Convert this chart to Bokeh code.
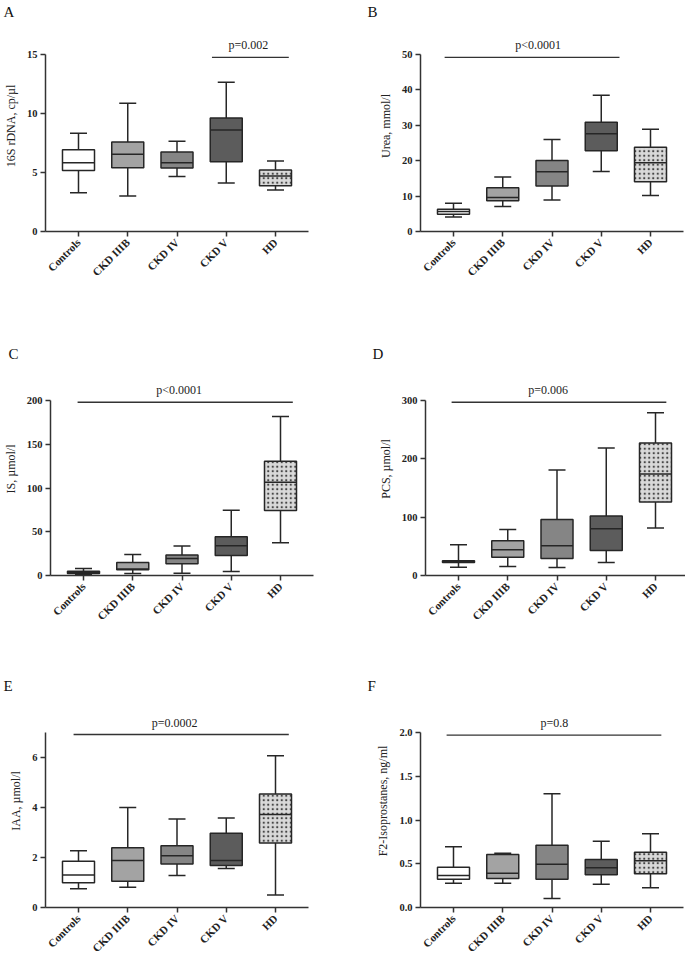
import math
from bokeh.plotting import figure
from bokeh.layouts import column, row
from bokeh.models import Range1d, FixedTicker, NumeralTickFormatter, ColumnDataSource
from bokeh.core.properties import value
from bokeh.embed import file_html
from bokeh.resources import INLINE

# ---------------- data ----------------
categories = ["Controls", "CKD IIIB", "CKD IV", "CKD V", "HD"]
box_colors = ["#ffffff", "#a3a3a3", "#858585", "#5c5c5c", "#d9d9d9"]
box_hatches = ["blank", "blank", "blank", "blank", "dot"]

# A: 16S rDNA
a_lower = [3.28, 3.0, 4.67, 4.1, 3.51]
a_q1 = [5.18, 5.41, 5.38, 5.92, 3.88]
a_med = [5.83, 6.54, 5.83, 8.6, 4.7]
a_q3 = [6.93, 7.59, 6.74, 9.62, 5.21]
a_upper = [8.32, 10.87, 7.64, 12.65, 5.97]
a_ticks = [0, 5, 10, 15]

# B: Urea
b_lower = [4.13, 7.04, 8.91, 16.98, 10.2]
b_q1 = [4.88, 8.72, 12.85, 22.8, 14.07]
b_med = [5.63, 9.57, 16.89, 27.58, 19.4]
b_q3 = [6.29, 12.38, 20.07, 30.86, 23.83]
b_upper = [7.97, 15.38, 25.98, 38.46, 28.9]
b_ticks = [0, 10, 20, 30, 40, 50]

# C: IS
c_lower = [1.0, 2.3, 2.7, 4.6, 37.5]
c_q1 = [2.2, 6.5, 13.4, 22.9, 74.2]
c_med = [3.5, 7.5, 19.5, 34.0, 106.7]
c_q3 = [5.0, 14.9, 23.3, 44.4, 130.5]
c_upper = [8.0, 24.1, 33.7, 74.6, 181.6]
c_ticks = [0, 50, 100, 150, 200]

# D: PCS
d_lower = [14.3, 15.5, 13.7, 22.3, 81.3]
d_q1 = [22.5, 31.5, 29.2, 43.0, 126.0]
d_med = [24.0, 44.0, 51.0, 80.2, 174.0]
d_q3 = [25.5, 59.5, 96.0, 102.0, 227.3]
d_upper = [52.7, 79.0, 181.0, 218.7, 278.8]
d_ticks = [0, 100, 200, 300]

# E: IAA
e_lower = [0.75, 0.81, 1.28, 1.56, 0.5]
e_q1 = [0.99, 1.05, 1.74, 1.68, 2.58]
e_med = [1.30, 1.88, 2.07, 1.88, 3.72]
e_q3 = [1.85, 2.39, 2.47, 2.97, 4.54]
e_upper = [2.27, 4.0, 3.54, 3.58, 6.07]
e_ticks = [0, 2, 4, 6]

# F: F2-Isoprostanes
f_lower = [0.278, 0.278, 0.103, 0.267, 0.225]
f_q1 = [0.324, 0.331, 0.324, 0.373, 0.385]
f_med = [0.366, 0.392, 0.495, 0.453, 0.533]
f_q3 = [0.461, 0.606, 0.712, 0.549, 0.632]
f_upper = [0.693, 0.621, 1.30, 0.758, 0.842]
f_ticks = [0, 0.5, 1.0, 1.5, 2.0]

panel_letters = ["A", "B", "C", "D", "E", "F"]
y_labels = ["16S rDNA, cp/\u00b5l", "Urea, mmol/l", "IS, \u00b5mol/l",
            "PCS, \u00b5mol/l", "IAA, \u00b5mol/l", "F2-Isoprostanes, ng/ml"]
y_max = [15, 50, 200, 300, 7, 2.0]
p_texts = ["p=0.002", "p<0.0001", "p<0.0001", "p=0.006", "p=0.0002", "p=0.8"]
p_line_x0 = [2.71, -0.18, -0.12, -0.14, -0.10, -0.14]
p_line_x1 = [4.27, 3.37, 4.25, 4.22, 4.27, 4.22]
p_line_y = [14.75, 49.2, 198, 297, 6.92, 1.97]
p_text_x = [3.45, 1.72, 1.94, 1.82, 1.95, 2.05]

# ---------------- styling ----------------
SERIF = "Liberation Serif"
EDGE = "#262626"
FRAME_W = 263
BOX_W = 0.65


def make_panel(i, lower, q1, med, q3, upper, ticks, left, axis_h, ext, mb_top, mb_bottom, fmt=None):
    ymax = y_max[i]
    p = figure(frame_width=FRAME_W, frame_height=axis_h + ext,
               x_range=Range1d(-0.67, 4.67),
               y_range=Range1d(0, ymax * (axis_h + ext) / axis_h),
               output_backend="svg", toolbar_location=None,
               min_border_left=45 if left else 62,
               min_border_right=50 if left else 1,
               min_border_top=mb_top, min_border_bottom=mb_bottom)
    xs = list(range(len(categories)))
    src = ColumnDataSource(dict(
        x=xs, lower=lower, q1=q1, med=med, q3=q3, upper=upper,
        color=box_colors, hatch=box_hatches,
        x0=[x - BOX_W / 2 for x in xs], x1=[x + BOX_W / 2 for x in xs]))

    p.segment(x0="x", y0="lower", x1="x", y1="upper", line_color=EDGE,
              line_width=1.5, source=src)
    p.vbar(x="x", width=BOX_W, bottom="q1", top="q3", fill_color="color",
           line_color=EDGE, line_width=1.5, hatch_pattern="hatch",
           hatch_color="#444444", hatch_scale=4.5, hatch_weight=1.1, source=src)
    p.segment(x0="x0", y0="med", x1="x1", y1="med", line_color=EDGE,
              line_width=1.5, source=src)
    p.scatter(x="x", y="upper", marker="dash", size=17, line_color=EDGE,
              line_width=1.5, source=src)
    p.scatter(x="x", y="lower", marker="dash", size=17, line_color=EDGE,
              line_width=1.5, source=src)

    p.segment(x0=[p_line_x0[i]], y0=[p_line_y[i]], x1=[p_line_x1[i]],
              y1=[p_line_y[i]], line_color="#333333", line_width=1.3)
    p.text(x=[p_text_x[i]], y=[p_line_y[i]], text=[p_texts[i]],
           text_align="center", text_baseline="bottom", y_offset=-5,
           text_font=value(SERIF), text_font_size="12px", text_color="#222222")

    p.grid.visible = False
    p.outline_line_color = None
    for ax in p.axis:
        ax.axis_line_color = "#333333"
        ax.axis_line_width = 1.5
        ax.major_tick_line_color = "#333333"
        ax.major_tick_line_width = 1.5
        ax.major_tick_out = 5
        ax.major_tick_in = 0
        ax.minor_tick_out = 0
        ax.minor_tick_in = 0
        ax.major_label_text_font = SERIF
        ax.major_label_text_font_style = "bold"
        ax.major_label_text_color = "#222222"

    ya = p.yaxis[0]
    ya.ticker = FixedTicker(ticks=ticks)
    ya.bounds = (0, ymax)
    ya.major_label_standoff = 3
    ya.major_label_text_font_size = "10.5px"
    ya.axis_label = y_labels[i]
    ya.axis_label_text_font = SERIF
    ya.axis_label_text_font_style = "normal"
    ya.axis_label_text_font_size = "12px"
    ya.axis_label_text_color = "#222222"
    ya.axis_label_standoff = 6
    if fmt:
        ya.formatter = NumeralTickFormatter(format=fmt)

    xa = p.xaxis[0]
    xa.ticker = FixedTicker(ticks=xs)
    xa.major_label_overrides = {x: c for x, c in zip(xs, categories)}
    xa.major_label_orientation = math.pi / 4
    xa.major_label_standoff = 4
    xa.major_label_text_font_size = "11px"

    p.title.text = panel_letters[i]
    p.title.align = "left"
    p.title.offset = -42 if left else -53
    p.title.standoff = 2
    p.title.text_font = SERIF
    p.title.text_font_style = "normal"
    p.title.text_font_size = "15px"
    p.title.text_color = "#111111"
    return p


pA = make_panel(0, a_lower, a_q1, a_med, a_q3, a_upper, a_ticks, True, 177, 34, 20, 89)
pB = make_panel(1, b_lower, b_q1, b_med, b_q3, b_upper, b_ticks, False, 177, 34, 20, 89)
pC = make_panel(2, c_lower, c_q1, c_med, c_q3, c_upper, c_ticks, True, 175, 38, 42, 65)
pD = make_panel(3, d_lower, d_q1, d_med, d_q3, d_upper, d_ticks, False, 175, 38, 42, 65)
pE = make_panel(4, e_lower, e_q1, e_med, e_q3, e_upper, e_ticks, True, 175, 38, 54, 50)
pF = make_panel(5, f_lower, f_q1, f_med, f_q3, f_upper, f_ticks, False, 175, 38, 54, 50, "0.0")

layout = column(row(pA, pB), row(pC, pD), row(pE, pF))
open("out.html", "w").write(file_html(layout, INLINE))
